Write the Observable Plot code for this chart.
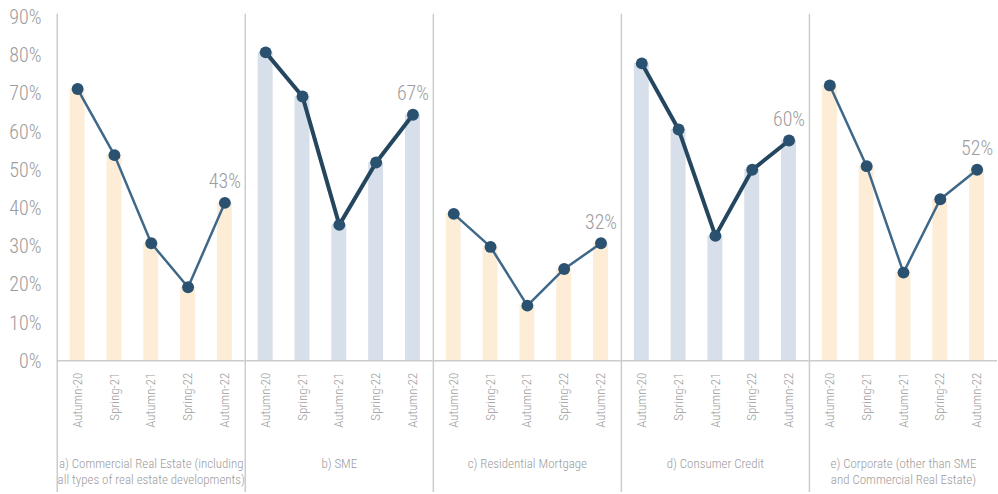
<!DOCTYPE html>
<html>
<head>
<meta charset="utf-8">
<script src="https://cdn.jsdelivr.net/npm/d3@7"></script>
<script src="https://cdn.jsdelivr.net/npm/@observablehq/plot@0.6"></script>
<style>
  html, body { margin: 0; padding: 0; background: #fff; overflow: hidden; }
  #wrap { position: relative; width: 998px; height: 494px; overflow: hidden; }
  #wrap svg { position: absolute; left: 0; top: 0; }
  #wrap svg text { font-weight: 300; font-stretch: condensed; }
</style>
</head>
<body>
<div id="wrap"></div>
<script>
// ---- data ----
const panels = [
  "a) Commercial Real Estate (including\nall types of real estate developments)",
  "b) SME",
  "c) Residential Mortgage",
  "d) Consumer Credit",
  "e) Corporate (other than SME\nand Commercial Real Estate)"
];
const periods = ["Autumn-20", "Spring-21", "Autumn-21", "Spring-22", "Autumn-22"];
const commercialRealEstate = [74, 56, 32, 20, 43];
const sme = [84, 72, 37, 54, 67];
const residentialMortgage = [40, 31, 15, 25, 32];
const consumerCredit = [81, 63, 34, 52, 60];
const corporate = [75, 53, 24, 44, 52];
const yTicks = [0, 10, 20, 30, 40, 50, 60, 70, 80, 90];

const series = [commercialRealEstate, sme, residentialMortgage, consumerCredit, corporate];
const rows = panels.flatMap((panel, i) =>
  periods.map((period, j) => ({panel, period, value: series[i][j]}))
);
const emphasized = new Set([panels[1], panels[3]]);
const isEmph = d => emphasized.has(d.panel);
const lastPeriod = periods[periods.length - 1];

const FONT = '"Roboto Condensed", "Liberation Sans Narrow", Roboto, "DejaVu Sans Condensed", sans-serif';
const GREY = "#9c9c9c";
const ORANGE = "#fdecd6";
const BLUE = "#d7dfea";

const main = Plot.plot({
  width: 1003,
  height: 494,
  marginLeft: 55,
  marginRight: 0,
  marginTop: 30,
  marginBottom: 132,
  style: {fontFamily: FONT, background: "transparent", color: GREY},
  fx: {domain: panels, padding: 0, label: null},
  x: {domain: periods, paddingInner: 0.6, paddingOuter: 0.3, label: null},
  y: {domain: [0, 90], axis: null},
  marks: [
    Plot.barY(rows.filter(d => !isEmph(d)), {fx: "panel", x: "period", y: "value", fill: ORANGE}),
    Plot.barY(rows.filter(isEmph), {fx: "panel", x: "period", y: "value", fill: BLUE}),
    Plot.ruleY([0], {stroke: "#cccccc", strokeWidth: 1.5}),
    Plot.frame({anchor: "left", stroke: "#cccccc", strokeWidth: 1.5, insetTop: -16, insetBottom: -132}),
    Plot.lineY(rows.filter(d => !isEmph(d)), {fx: "panel", x: "period", y: "value", stroke: "#3e6889", strokeWidth: 2.5}),
    Plot.lineY(rows.filter(isEmph), {fx: "panel", x: "period", y: "value", stroke: "#24475f", strokeWidth: 4}),
    Plot.dot(rows, {fx: "panel", x: "period", y: "value", r: 6, fill: "#2b5170"}),
    Plot.text(rows.filter(d => d.period === lastPeriod), {
      fx: "panel", x: "period", y: "value", text: d => d.value + "%",
      dy: -21, fontSize: 20, fill: GREY
    }),
    Plot.axisX({tickRotate: -90, tickSize: 0, tickPadding: 12, fontSize: 13, fill: GREY, label: null}),
    Plot.axisFx({anchor: "bottom", tickSize: 0, tickPadding: 96, fontSize: 13, lineHeight: 1.25, fill: GREY, label: null})
  ]
});

const yAxis = Plot.plot({
  width: 60,
  height: 494,
  marginLeft: 55,
  marginRight: 5,
  marginTop: 17,
  marginBottom: 133,
  style: {fontFamily: FONT, background: "transparent", color: GREY},
  y: {domain: [0, 90]},
  marks: [
    Plot.axisY({ticks: yTicks, tickSize: 0, tickPadding: 14, tickFormat: d => d + "%", fontSize: 20, fill: GREY, label: null})
  ]
});

const wrap = document.getElementById("wrap");
wrap.appendChild(main);
wrap.appendChild(yAxis);
</script>
</body>
</html>
